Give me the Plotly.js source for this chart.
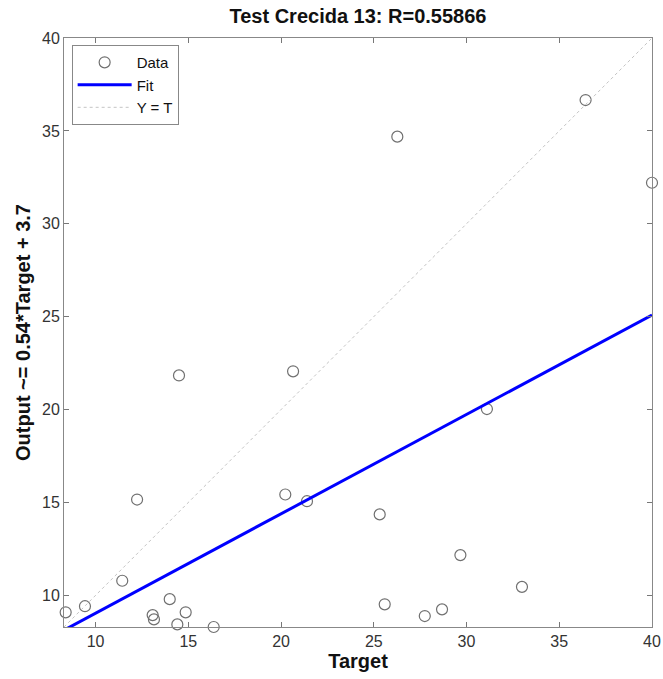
<!DOCTYPE html>
<html>
<head>
<meta charset="utf-8">
<script src="https://cdn.plot.ly/plotly-3.0.1.min.js"></script>
<style>html,body{margin:0;padding:0;background:#fff;}#chart{width:663px;height:679px;}</style>
</head>
<body>
<div id="chart"></div>
<script>
const targets = [8.39, 9.43, 11.44, 12.24, 13.08, 13.15, 14.0, 14.41, 14.86, 16.37, 20.23, 21.4, 25.32, 29.67, 32.99, 25.59, 27.75, 28.68, 14.5, 20.65, 26.27, 36.42, 40.0, 31.1];
const outputs = [9.09, 9.42, 10.79, 15.16, 8.94, 8.71, 9.8, 8.44, 9.09, 8.3, 15.43, 15.07, 14.36, 12.17, 10.46, 9.52, 8.89, 9.25, 21.84, 22.06, 34.69, 36.66, 32.21, 20.03];
const fitSlope = 0.535;
const fitIntercept = 3.69;
const axisRange = [8.3, 40];
const tickVals = [10, 15, 20, 25, 30, 35, 40];

const fitX = axisRange.slice();
const fitY = fitX.map(v => fitSlope * v + fitIntercept);

const font = 'Liberation Sans, Arial, sans-serif';
const traces = [
  {x: targets, y: outputs, mode: 'markers', name: 'Data', cliponaxis: false,
   marker: {symbol: 'circle-open', size: 11, color: '#707070', line: {width: 1.2, color: '#707070'}}},
  {x: fitX, y: fitY, mode: 'lines', name: 'Fit', line: {color: '#0000ff', width: 3}},
  {x: axisRange, y: axisRange, mode: 'lines', name: 'Y = T', line: {color: '#c4c4c4', width: 1, dash: 'dot'}}
];
const axisCommon = {
  range: axisRange, tickvals: tickVals, ticks: 'inside', ticklen: 5, tickcolor: '#777',
  showline: true, linecolor: '#888', linewidth: 1, mirror: 'ticks', showgrid: false, zeroline: false,
  tickfont: {family: font, size: 16, color: '#333'}
};
const layout = {
  width: 663, height: 679,
  margin: {l: 64, r: 11, t: 38, b: 52},
  paper_bgcolor: '#fff', plot_bgcolor: '#fff',
  title: {text: '<b>Test Crecida 13: R=0.55866</b>', font: {family: font, size: 20, color: '#111'}, x: 0.5, xref: 'paper', yref: 'container', y: 0.976, yanchor: 'middle'},
  xaxis: Object.assign({}, axisCommon, {title: {text: '<b>Target</b>', font: {family: font, size: 20, color: '#111'}, standoff: 4}}),
  yaxis: Object.assign({}, axisCommon, {title: {text: '<b>Output ~= 0.54*Target + 3.7</b>', font: {family: font, size: 20, color: '#111'}, standoff: 6}}),
  showlegend: true,
  legend: {x: 0.013, y: 0.988, xanchor: 'left', yanchor: 'top', bgcolor: '#fff', bordercolor: '#888', borderwidth: 1,
           font: {family: font, size: 15, color: '#111'}, tracegroupgap: 0, itemwidth: 54}
};
Plotly.newPlot('chart', traces, layout, {displayModeBar: false, staticPlot: true});
</script>
</body>
</html>
